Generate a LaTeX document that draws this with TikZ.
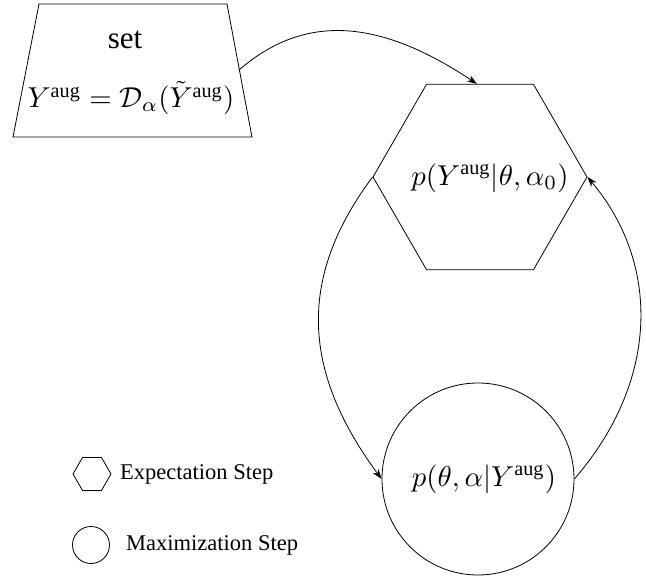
\documentclass[tikz,border=0pt]{standalone}
\usepackage{fontspec}
\setmainfont{Liberation Serif}
\usetikzlibrary{shapes.geometric,arrows.meta}
\tikzset{
  shapeline/.style={draw=black, line width=0.8pt},
  conn/.style={draw=black, line width=0.8pt, -{Stealth[length=10pt,width=7pt]}},
  bigmath/.style={scale=2.88, inner sep=0pt},
  legendtext/.style={font=\fontsize{22.5}{26}\selectfont, anchor=west, inner sep=0pt}
}
\begin{document}
\begin{tikzpicture}[x=1pt,y=-1pt]
\useasboundingbox (0,0) rectangle (646,577);
% trapezoid
\coordinate (tTL) at (39,4);
\coordinate (tTR) at (227,4);
\coordinate (tBR) at (252,137);
\coordinate (tBL) at (13,137);
\draw[shapeline] (tTL) -- (tTR) -- (tBR) -- (tBL) -- cycle;
\coordinate (trapR) at (239,70);
\node[font=\fontsize{31}{36}\selectfont, inner sep=0pt] (settext) at (125,40) {set};
\node[bigmath] (formula) at (131,98) {$Y^{\mathrm{aug}}=\mathcal{D}_\alpha(\tilde{Y}^{\mathrm{aug}})$};
% hexagon
\node[shapeline, regular polygon, regular polygon sides=6, minimum size=214pt, inner sep=0pt] (hex) at (480,177) {};
\node[bigmath] (hextext) at (490,178) {$p(Y^{\mathrm{aug}}|\theta,\alpha_0)$};
% circle
\node[shapeline, circle, minimum size=192pt, inner sep=0pt] (circ) at (478,479) {};
\node[bigmath] (circtext) at (484,479) {$p(\theta,\alpha|Y^{\mathrm{aug}})$};
% connectors
\draw[conn] (trapR) .. controls (306,12) and (381,20) .. ([xshift=-3pt]hex.north);
\draw[conn] (hex.west) .. controls (299.5,275) and (299.5,368) .. (circ.west);
\draw[conn] (circ.east) .. controls (660,380) and (660,263) .. (hex.east);
% legend
\node[shapeline, regular polygon, regular polygon sides=6, minimum size=38pt, inner sep=0pt] (lhex) at (92,474) {};
\node[legendtext] (lhextext) at (120,474) {Expectation Step};
\node[shapeline, circle, minimum size=37pt, inner sep=0pt] (lcirc) at (91,545) {};
\node[legendtext] (lcirctext) at (126,545) {Maximization Step};
\end{tikzpicture}
\end{document}
